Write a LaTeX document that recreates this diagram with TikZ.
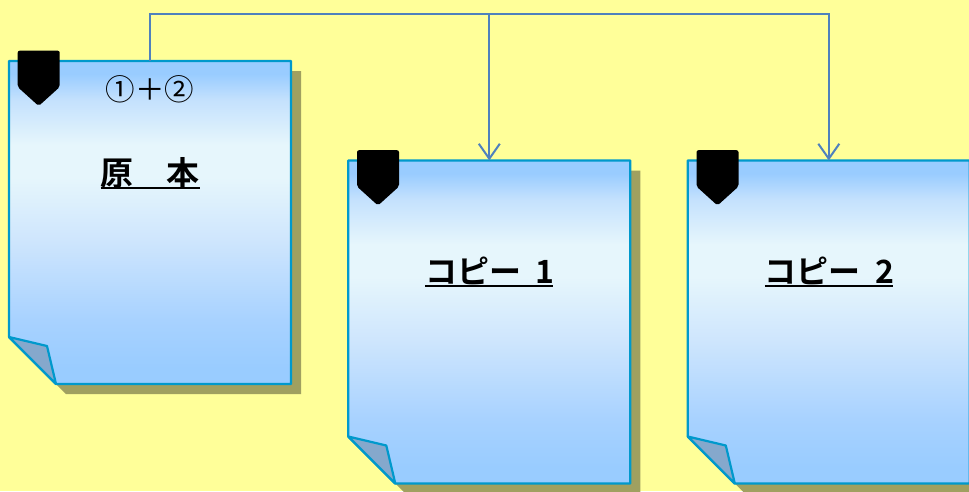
\documentclass[tikz,border=0pt]{standalone}
\usepackage{fontspec}
\usetikzlibrary{arrows.meta}
\newfontfamily\jpbold{Noto Sans CJK JP Bold}
\newfontfamily\jpreg{Noto Sans CJK JP}
\definecolor{bgyellow}{HTML}{FFFF99}
\definecolor{shadowc}{HTML}{A0A060}
\definecolor{edgec}{HTML}{0099CC}
\definecolor{foldc}{HTML}{85A8CC}
\definecolor{linkc}{HTML}{4F81BD}
\definecolor{skyc}{HTML}{99CCFF}
\definecolor{midC}{HTML}{C4E1FD}
\definecolor{lowA}{HTML}{CFE6FD}
\definecolor{lowB}{HTML}{A8D2FF}
\definecolor{paleC}{HTML}{E6F6FC}
\pgfdeclareverticalshading{sheetfill}{100bp}{color(0bp)=(skyc); color(27.5bp)=(skyc); color(35bp)=(lowB); color(47.5bp)=(lowA); color(57bp)=(paleC); color(62bp)=(paleC); color(69bp)=(midC); color(73bp)=(skyc); color(100bp)=(skyc)}
\newlength{\ulw}
\newcommand{\ulbar}[1]{\settowidth{\ulw}{#1}\leavevmode\rlap{\rule[-3.5pt]{\ulw}{1.6pt}}#1}
\tikzset{
  x=1pt, y=-1pt,
  sheetbox/.style={minimum width=282pt, minimum height=323pt, inner sep=0pt, outer sep=0pt},
  title/.style={font=\jpbold\fontsize{33pt}{33pt}\selectfont, inner sep=0pt, text=black},
  titlesm/.style={font=\jpbold\fontsize{32pt}{33pt}\selectfont, inner sep=0pt, text=black},
  sub/.style={font=\jpreg\fontsize{29.5pt}{30pt}\selectfont, inner sep=0pt, text=black},
  link/.style={draw=linkc, line width=2pt},
  linkarrow/.style={link, -{Straight Barb[length=15pt, width=21pt, line width=2pt]}},
}
\newcommand{\sheetdraw}[2]{%
  \begin{scope}[shift={(#1,#2)}]
    \fill[shadowc] (19,71) -- (301,71) -- (301,394) -- (66,394) -- (19,347) -- cycle;
    \path[shading=sheetfill] (9,61) -- (291,61) -- (291,384) -- (56,384) -- (9,337) -- cycle;
    \draw[edgec, line width=2.2pt, line join=round] (9,61) -- (291,61) -- (291,384) -- (56,384) -- (9,337) -- cycle;
    \draw[edgec, fill=foldc, line width=2.2pt, line join=round] (9,337) -- (47,346) -- (56,384) -- cycle;
    \fill[black, rounded corners=2pt] (17.7,50.7) -- (59.7,50.7) -- (59.7,87) -- (38.7,106) -- (17.7,87) -- cycle;
  \end{scope}}
\begin{document}
\begin{tikzpicture}
\useasboundingbox[fill=bgyellow] (0,0) rectangle (969,491);
\sheetdraw{0}{0}
\sheetdraw{339.3}{99.5}
\sheetdraw{678.8}{99.5}
\node[sheetbox] (s1) at (150,222.5) {};
\node[sheetbox] (s2) at (489.3,322) {};
\node[sheetbox] (s3) at (828.8,322) {};
\coordinate (bus) at (489.3,14);
\draw[link] (s1.north) |- (bus);
\draw[linkarrow] (bus) -- (s2.north);
\draw[linkarrow] (bus) -| (s3.north);
\node[sub] (t0) at (150,89.5) {①＋②};
\node[title] (t1) at (150,173) {\ulbar{原\makebox[1em]{}本}};
\node[titlesm] (t2) at (489.3,272) {\ulbar{コピー\makebox[0.5em]{}\makebox[0.5em]{1}}};
\node[titlesm] (t3) at (828.8,272) {\ulbar{コピー\makebox[0.5em]{}\makebox[0.5em]{2}}};
\end{tikzpicture}
\end{document}
